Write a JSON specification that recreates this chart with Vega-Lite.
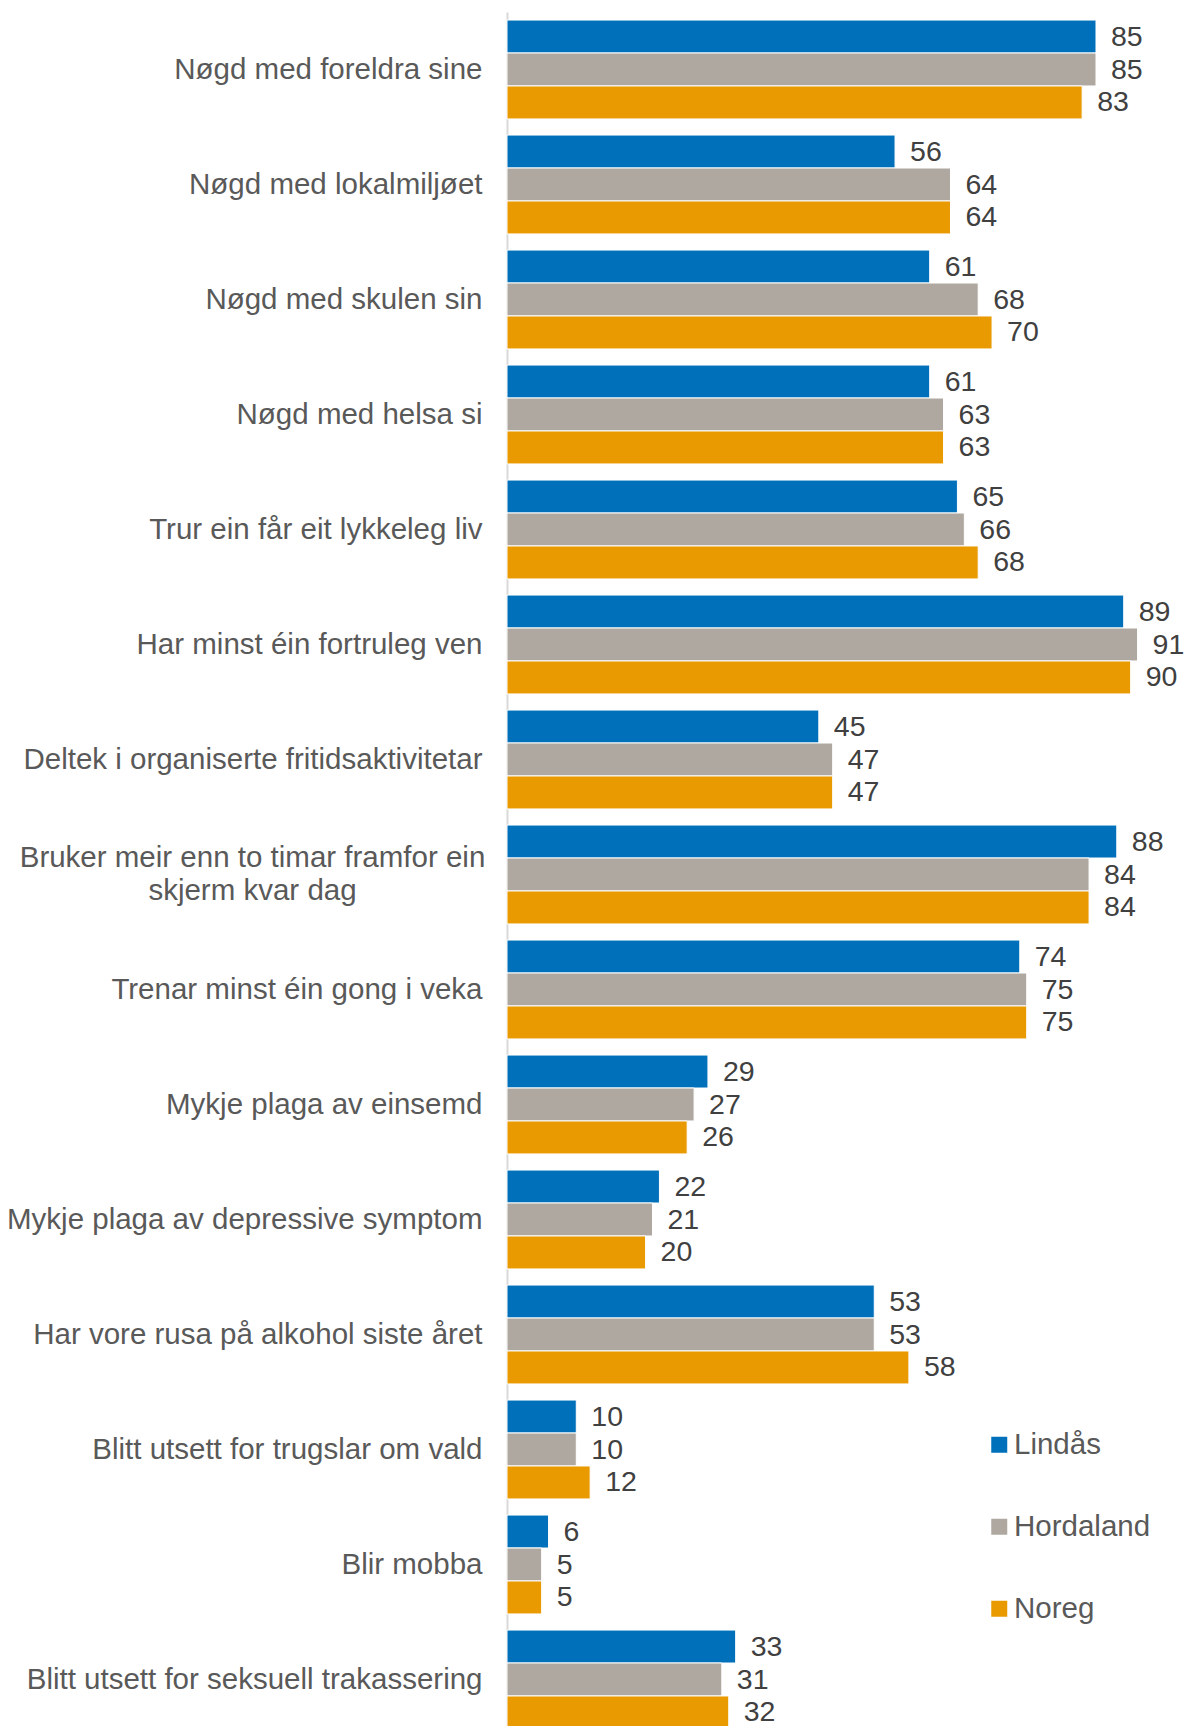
{
  "$schema": "https://vega.github.io/schema/vega-lite/v6.json",
  "autosize": "none",
  "width": 677,
  "height": 1714,
  "padding": {"left": 507, "top": 12, "right": 0, "bottom": 0},
  "background": "white",
  "config": {
    "view": {"stroke": null},
    "font": "Liberation Sans"
  },
  "data": {
    "values": [
      {"kategori": "Nøgd med foreldra sine", "gruppe": "Lindås", "verdi": 85},
      {"kategori": "Nøgd med foreldra sine", "gruppe": "Hordaland", "verdi": 85},
      {"kategori": "Nøgd med foreldra sine", "gruppe": "Noreg", "verdi": 83},
      {"kategori": "Nøgd med lokalmiljøet", "gruppe": "Lindås", "verdi": 56},
      {"kategori": "Nøgd med lokalmiljøet", "gruppe": "Hordaland", "verdi": 64},
      {"kategori": "Nøgd med lokalmiljøet", "gruppe": "Noreg", "verdi": 64},
      {"kategori": "Nøgd med skulen sin", "gruppe": "Lindås", "verdi": 61},
      {"kategori": "Nøgd med skulen sin", "gruppe": "Hordaland", "verdi": 68},
      {"kategori": "Nøgd med skulen sin", "gruppe": "Noreg", "verdi": 70},
      {"kategori": "Nøgd med helsa si", "gruppe": "Lindås", "verdi": 61},
      {"kategori": "Nøgd med helsa si", "gruppe": "Hordaland", "verdi": 63},
      {"kategori": "Nøgd med helsa si", "gruppe": "Noreg", "verdi": 63},
      {"kategori": "Trur ein får eit lykkeleg liv", "gruppe": "Lindås", "verdi": 65},
      {"kategori": "Trur ein får eit lykkeleg liv", "gruppe": "Hordaland", "verdi": 66},
      {"kategori": "Trur ein får eit lykkeleg liv", "gruppe": "Noreg", "verdi": 68},
      {"kategori": "Har minst éin fortruleg ven", "gruppe": "Lindås", "verdi": 89},
      {"kategori": "Har minst éin fortruleg ven", "gruppe": "Hordaland", "verdi": 91},
      {"kategori": "Har minst éin fortruleg ven", "gruppe": "Noreg", "verdi": 90},
      {"kategori": "Deltek i organiserte fritidsaktivitetar", "gruppe": "Lindås", "verdi": 45},
      {"kategori": "Deltek i organiserte fritidsaktivitetar", "gruppe": "Hordaland", "verdi": 47},
      {"kategori": "Deltek i organiserte fritidsaktivitetar", "gruppe": "Noreg", "verdi": 47},
      {"kategori": "Bruker meir enn to timar framfor ein skjerm kvar dag", "gruppe": "Lindås", "verdi": 88},
      {"kategori": "Bruker meir enn to timar framfor ein skjerm kvar dag", "gruppe": "Hordaland", "verdi": 84},
      {"kategori": "Bruker meir enn to timar framfor ein skjerm kvar dag", "gruppe": "Noreg", "verdi": 84},
      {"kategori": "Trenar minst éin gong i veka", "gruppe": "Lindås", "verdi": 74},
      {"kategori": "Trenar minst éin gong i veka", "gruppe": "Hordaland", "verdi": 75},
      {"kategori": "Trenar minst éin gong i veka", "gruppe": "Noreg", "verdi": 75},
      {"kategori": "Mykje plaga av einsemd", "gruppe": "Lindås", "verdi": 29},
      {"kategori": "Mykje plaga av einsemd", "gruppe": "Hordaland", "verdi": 27},
      {"kategori": "Mykje plaga av einsemd", "gruppe": "Noreg", "verdi": 26},
      {"kategori": "Mykje plaga av depressive symptom", "gruppe": "Lindås", "verdi": 22},
      {"kategori": "Mykje plaga av depressive symptom", "gruppe": "Hordaland", "verdi": 21},
      {"kategori": "Mykje plaga av depressive symptom", "gruppe": "Noreg", "verdi": 20},
      {"kategori": "Har vore rusa på alkohol siste året", "gruppe": "Lindås", "verdi": 53},
      {"kategori": "Har vore rusa på alkohol siste året", "gruppe": "Hordaland", "verdi": 53},
      {"kategori": "Har vore rusa på alkohol siste året", "gruppe": "Noreg", "verdi": 58},
      {"kategori": "Blitt utsett for trugslar om vald", "gruppe": "Lindås", "verdi": 10},
      {"kategori": "Blitt utsett for trugslar om vald", "gruppe": "Hordaland", "verdi": 10},
      {"kategori": "Blitt utsett for trugslar om vald", "gruppe": "Noreg", "verdi": 12},
      {"kategori": "Blir mobba", "gruppe": "Lindås", "verdi": 6},
      {"kategori": "Blir mobba", "gruppe": "Hordaland", "verdi": 5},
      {"kategori": "Blir mobba", "gruppe": "Noreg", "verdi": 5},
      {"kategori": "Blitt utsett for seksuell trakassering", "gruppe": "Lindås", "verdi": 33},
      {"kategori": "Blitt utsett for seksuell trakassering", "gruppe": "Hordaland", "verdi": 31},
      {"kategori": "Blitt utsett for seksuell trakassering", "gruppe": "Noreg", "verdi": 32}
    ]
  },
  "encoding": {
    "y": {
      "field": "kategori",
      "type": "nominal",
      "sort": null,
      "title": null,
      "scale": {"range": [0, 1725], "paddingInner": 0.14, "paddingOuter": 0.07},
      "axis": {
        "ticks": false,
        "domain": true,
        "domainColor": "#d9d9d9",
        "domainWidth": 2,
        "labelPadding": {"condition": {"test": "datum.label == 'Bruker meir enn to timar framfor ein skjerm kvar dag'", "value": 255}, "value": 25},
        "labelAlign": {"condition": {"test": "datum.label == 'Bruker meir enn to timar framfor ein skjerm kvar dag'", "value": "center"}, "value": "right"},
        "labelFontSize": 29.5,
        "labelColor": "#595959",
        "labelFont": "Liberation Sans",
        "labelLimit": 600,
        "labelLineHeight": 33,
        "labelOffset": {"condition": {"test": "datum.label == 'Bruker meir enn to timar framfor ein skjerm kvar dag'", "value": -16.5}, "value": 0},
        "labelExpr": "datum.label == 'Bruker meir enn to timar framfor ein skjerm kvar dag' ? ['Bruker meir enn to timar framfor ein', 'skjerm kvar dag'] : datum.label"
      }
    },
    "yOffset": {
      "field": "gruppe",
      "type": "nominal",
      "sort": ["Lindås", "Hordaland", "Noreg"],
      "scale": {"paddingInner": 0, "paddingOuter": 0}
    },
    "x": {
      "field": "verdi",
      "type": "quantitative",
      "title": null,
      "scale": {"domain": [0, 97.7], "nice": false},
      "axis": null
    }
  },
  "layer": [
    {
      "mark": {"type": "bar", "stroke": "white", "strokeWidth": 1},
      "encoding": {
        "color": {
          "field": "gruppe",
          "type": "nominal",
          "sort": ["Lindås", "Hordaland", "Noreg"],
          "scale": {"domain": ["Lindås", "Hordaland", "Noreg"], "range": ["#0070BB", "#AFA8A1", "#E89A00"]},
          "legend": {
            "title": null,
            "orient": "none",
            "legendX": 477.5,
            "legendY": 1418,
            "direction": "vertical",
            "symbolType": "square",
            "symbolSize": 256,
            "symbolStrokeWidth": 0,
            "labelFontSize": 29.5,
            "labelColor": "#595959",
            "labelFont": "Liberation Sans",
            "labelOffset": 0,
            "rowPadding": 51
          }
        }
      }
    },
    {
      "mark": {"type": "text", "align": "left", "baseline": "middle", "dx": 15, "fontSize": 28.5, "color": "#404040", "font": "Liberation Sans"},
      "encoding": {
        "text": {"field": "verdi", "type": "quantitative"}
      }
    }
  ]
}
